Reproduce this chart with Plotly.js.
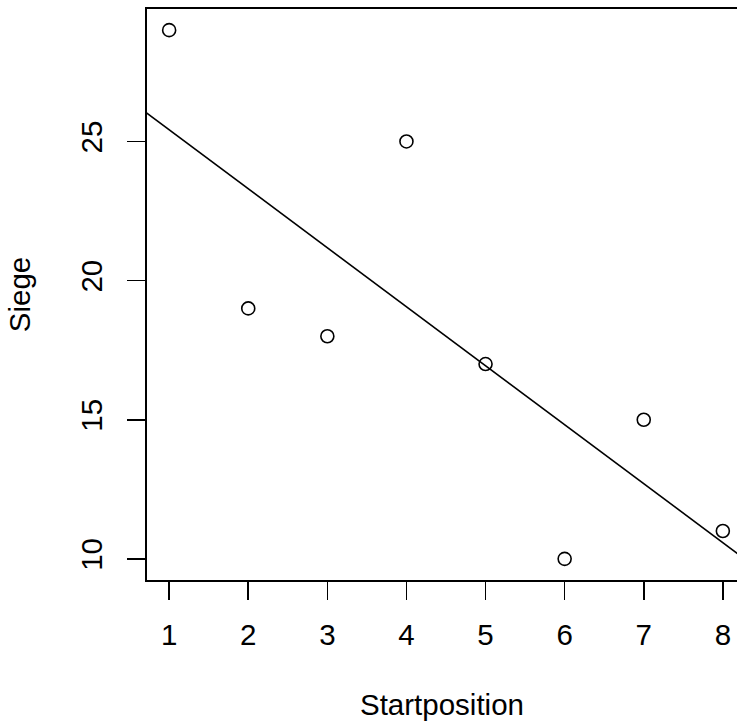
<!DOCTYPE html>
<html>
<head>
<meta charset="utf-8">
<script src="https://cdn.plot.ly/plotly-3.0.1.min.js"></script>
<style>html,body{margin:0;padding:0;background:#fff;overflow:hidden}#chart{width:737px;height:722px}</style>
</head>
<body>
<div id="chart"></div>
<script>
// Data
const startposition = [1, 2, 3, 4, 5, 6, 7, 8];
const siege = [29, 19, 18, 25, 17, 10, 15, 11];
const xTicks = [1, 2, 3, 4, 5, 6, 7, 8];
const yTicks = [10, 15, 20, 25];

// Least-squares fit (abline(lm(siege ~ startposition)))
const n = startposition.length;
const mx = startposition.reduce((a, b) => a + b, 0) / n;
const my = siege.reduce((a, b) => a + b, 0) / n;
let sxy = 0, sxx = 0;
for (let i = 0; i < n; i++) {
  sxy += (startposition[i] - mx) * (siege[i] - my);
  sxx += (startposition[i] - mx) ** 2;
}
const slope = sxy / sxx;
const intercept = my - slope * mx;

// R-style 4% axis extension
const xmin = Math.min(...startposition), xmax = Math.max(...startposition);
const ymin = Math.min(...siege), ymax = Math.max(...siege);
const xr = [xmin - 0.04 * (xmax - xmin), xmax + 0.04 * (xmax - xmin)];
const yr = [ymin - 0.04 * (ymax - ymin), ymax + 0.04 * (ymax - ymin)];
// the reference image is cropped at the right side
const xVisible = [xr[0], xr[0] + (xr[1] - xr[0]) * (590 / 598)];

const lineX = [xr[0] - 1, xr[1] + 1];
const lineY = lineX.map(x => intercept + slope * x);

const font = {family: 'Liberation Sans, Arial, sans-serif', size: 29.5, color: '#000'};

const traces = [
  {
    x: lineX, y: lineY, mode: 'lines', type: 'scatter',
    line: {color: '#000', width: 1.6}, hoverinfo: 'skip', showlegend: false
  },
  {
    x: startposition, y: siege, mode: 'markers', type: 'scatter',
    marker: {symbol: 'circle-open', size: 13, color: '#000', line: {width: 1.6, color: '#000'}},
    showlegend: false
  }
];

const layout = {
  width: 737, height: 722,
  margin: {l: 147, r: 0, t: 9, b: 142},
  paper_bgcolor: '#fff', plot_bgcolor: '#fff',
  font: font,
  showlegend: false,
  xaxis: {
    range: xVisible, tickvals: xTicks, ticktext: xTicks.map(String),
    showgrid: false, zeroline: false,
    showline: true, mirror: true, linecolor: '#000', linewidth: 1.6,
    ticks: 'outside', ticklen: 18, tickwidth: 1.6, tickcolor: '#000',
    tickfont: font, ticklabelstandoff: 10,
    title: {text: 'Startposition', font: font, standoff: 44}
  },
  yaxis: {
    range: yr, tickvals: yTicks, ticktext: yTicks.map(String),
    showgrid: false, zeroline: false,
    showline: true, mirror: false, linecolor: '#000', linewidth: 1.6,
    ticks: 'outside', ticklen: 18, tickwidth: 1.6, tickcolor: '#000',
    tickangle: -90, tickfont: font, ticklabelstandoff: 14,
    title: {text: 'Siege', font: font, standoff: 35}
  }
};

Plotly.newPlot('chart', traces, layout, {staticPlot: true, displayModeBar: false});
</script>
</body>
</html>
